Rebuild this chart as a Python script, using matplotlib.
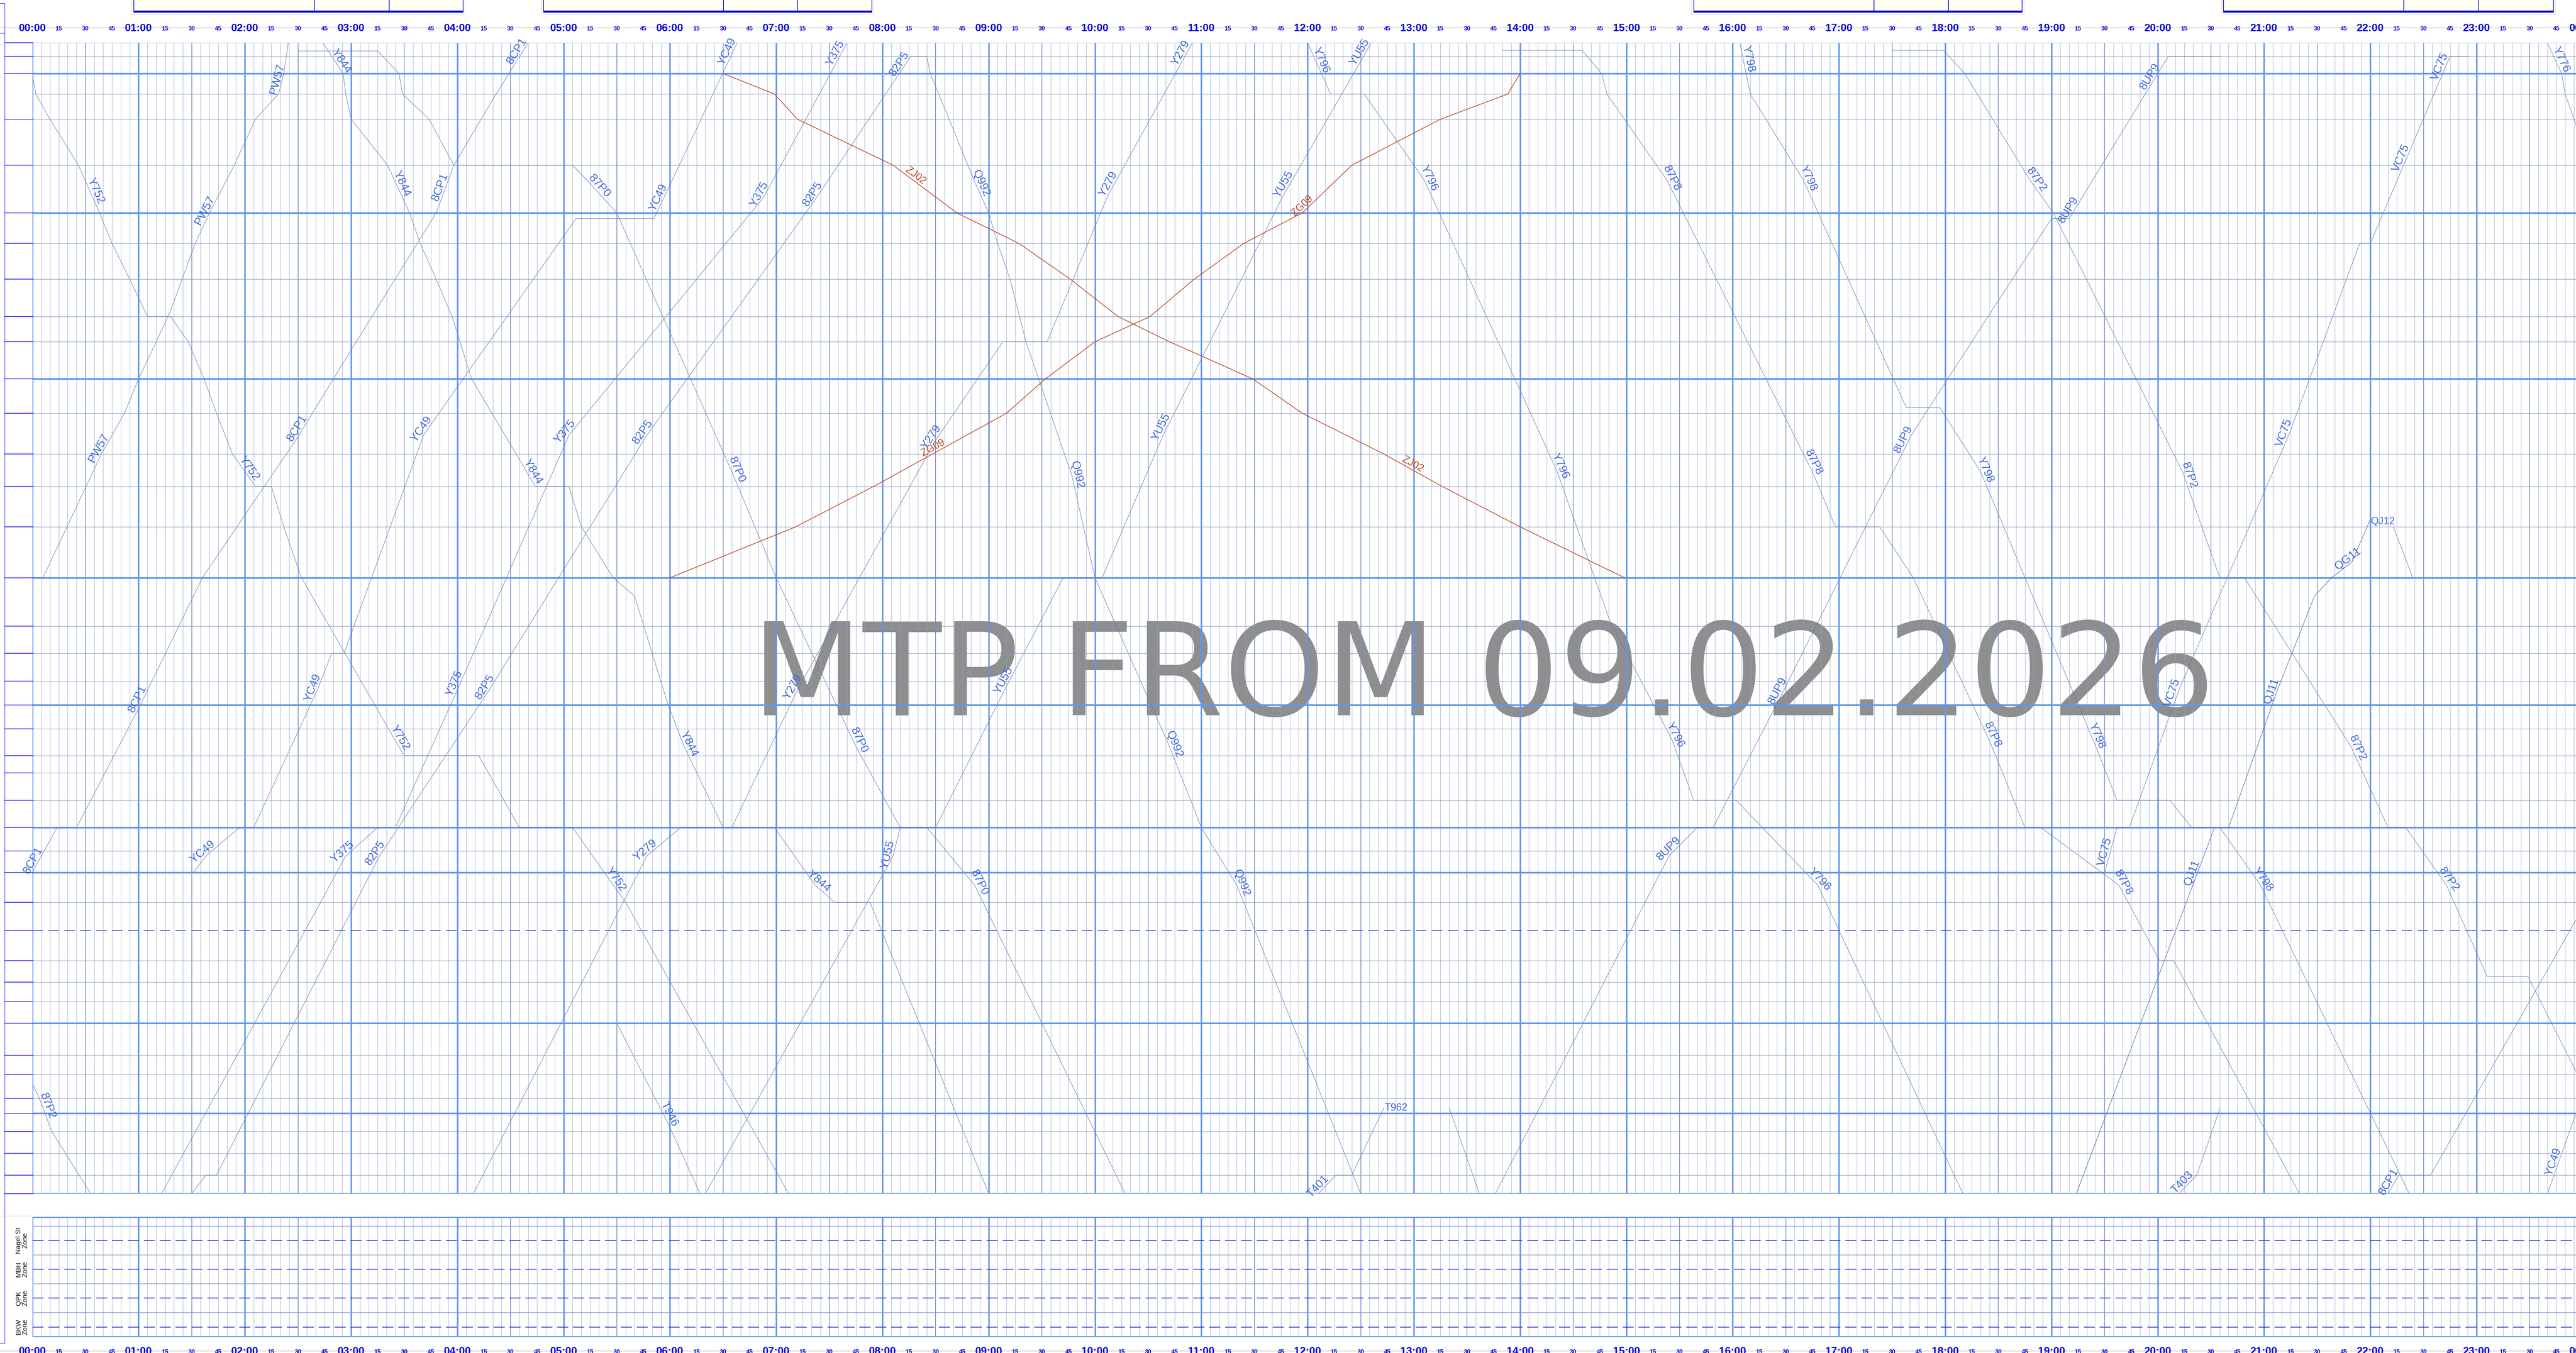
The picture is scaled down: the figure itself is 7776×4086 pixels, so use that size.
import numpy as np
import matplotlib
matplotlib.use("Agg")
import matplotlib.pyplot as plt
from matplotlib import transforms
from matplotlib.patches import Rectangle

FIG_W, FIG_H, DPI = 7776, 4086, 100

# ---------------- data ----------------
# station chainages (km), top to bottom of the diagram
STATION_KM = [0.00, 0.41, 0.93, 1.55, 2.31, 3.70, 5.14, 6.06, 7.14, 8.27, 9.03,
              10.15, 11.19, 12.42, 13.40, 14.62, 16.16, 17.62, 18.44, 19.28, 20.00,
              20.72, 21.53, 22.05, 22.88, 23.70, 24.41, 25.06, 25.96, 26.81, 27.72,
              28.37, 28.96, 29.61, 30.58, 31.16, 31.88, 32.33, 32.88, 33.54, 34.20, 34.76]
MAJOR_STATIONS = [2, 6, 11, 16, 20, 25, 27, 33, 37, 41]
DASHED_STATIONS = [29]
NO_TICK_STATIONS = [0, 3]
KM_END = 34.76

ZONE_NAMES = ["Nagel St\nZone", "MBH\nZone", "QPK\nZone", "BKW\nZone"]
WATERMARK = "MTP FROM 09.02.2026"

# train paths: (minutes after 00:00, chainage km)
PATH_PW57 = [(0, 16.16), (6, 16.16), (39, 12.42), (52, 11.19), (60, 10.15), (70, 9.03), (78, 8.10),
             (92, 6.06), (100, 5.14), (114, 3.70), (126, 2.31), (139, 1.55), (142, 0.93), (144.5, 0.0)]
PATH_87P0 = [(150, 0.25), (195, 0.25), (207, 0.93), (209, 1.55), (224, 2.31), (238, 3.70), (305, 3.70),
             (313, 4.14), (330, 5.14), (395, 12.96), (420, 16.16), (465, 21.25), (490, 23.70),
             (505, 23.70), (532, 25.44), (617, 34.76)]
PATH_Y752 = [(0, 0.93), (2, 1.55), (10, 2.31), (26, 3.70), (38, 5.14), (45, 6.06), (55, 7.14), (65, 8.27),
             (78, 8.27), (88, 9.03), (97, 10.15), (104, 11.19), (113, 12.42), (126, 13.40), (135, 13.40),
             (142, 14.62), (152, 16.16), (205, 21.08), (210, 21.53), (252, 21.53), (275, 23.70),
             (305, 23.70), (328, 25.44), (335, 25.96), (427, 34.76)]
PATH_Y844 = [(164, 0.0), (175.5, 0.93), (177, 1.55), (180, 2.31), (200.6, 3.70), (213, 5.14), (219, 6.06),
             (228, 7.14), (237, 8.27), (248, 10.15), (284, 13.40), (303, 13.40), (310, 14.62), (328, 16.16),
             (340, 16.71), (359, 20.0), (368, 21.25), (390, 23.70), (419, 23.70), (442, 25.44),
             (453, 25.96), (473, 25.96), (540, 34.76)]
PATH_8CP1 = [(0, 25.06), (14, 23.70), (25, 23.70), (61, 20.0), (96, 16.16), (150, 11.90), (170, 10.15),
             (228, 5.14), (238, 3.70), (260, 1.71), (280, 0.0)]
PATH_YC49 = [(91, 25.06), (98, 24.56), (117, 23.70), (125, 23.70), (161, 19.54), (169, 18.44), (176, 18.44),
             (221, 11.84), (307, 5.31), (351, 5.31), (398, 0.0)]
PATH_Y375 = [(73, 34.76), (177, 24.56), (195, 23.70), (205, 23.70), (240, 19.54), (303, 11.85),
             (413, 4.66), (460, 0.0)]
PATH_82P5 = [(90, 34.76), (98, 34.20), (104, 34.20), (196, 24.56), (258, 19.54), (347, 11.85),
             (443, 4.66), (496, 0.41)]
PATH_Q992 = [(496, 0.41), (505, 0.41), (507, 0.93), (532, 4.19), (540, 5.14), (545, 6.06), (552, 7.14),
             (561, 9.03), (587, 13.09), (600, 16.16), (642, 21.25), (660, 23.70), (680, 25.44), (750, 34.76)]
PATH_Y279 = [(249, 34.76), (347, 24.56), (366, 23.70), (395, 23.70), (432, 19.54), (510, 12.0),
             (548, 9.03), (573, 9.03), (607, 4.64), (655, 0.0)]
PATH_YU55 = [(380, 34.76), (486, 24.56), (490, 23.70), (510, 23.70), (549, 19.54), (582, 16.16),
             (604, 16.16), (638, 11.90), (706, 4.64), (756, 0.0)]
PATH_ZG09 = [(360, 16.16), (431, 14.62), (475, 13.40), (550, 11.19), (572, 10.15), (600, 9.03), (631, 8.27),
             (656, 7.14), (684, 6.06), (717, 5.14), (745, 3.70), (795, 2.31), (833, 1.55), (840, 0.93)]
PATH_ZJ02 = [(390, 0.93), (419, 1.55), (432, 2.31), (486, 3.70), (522, 5.14), (557, 6.06), (586, 7.14),
             (613, 8.27), (642, 9.03), (689, 10.15), (717, 11.19), (763, 12.42), (796, 13.40),
             (840, 14.62), (899, 16.16)]
PATH_Y796 = [(720, 0.0), (733, 1.55), (752, 1.55), (786, 4.16), (861, 12.96), (891, 17.51), (926, 21.08),
             (938, 22.88), (962, 22.88), (1008, 25.44), (1090, 34.76)]
PATH_87P8 = [(830, 0.23), (875, 0.23), (886, 0.93), (889, 1.55), (923, 4.16), (1005, 12.96), (1018, 14.62),
             (1043, 14.62), (1062, 16.16), (1105, 21.08), (1125, 23.70), (1134, 23.70), (1178, 25.44),
             (1201, 27.72), (1209, 27.72), (1280, 34.76)]
PATH_Y798 = [(964, 0.0), (970, 1.55), (1000, 4.16), (1058, 11.02), (1077, 11.02), (1100, 12.96),
             (1165, 21.25), (1177, 22.88), (1207, 22.88), (1219, 23.70), (1235, 23.70), (1258, 25.44),
             (1342, 34.76)]
PATH_87P2 = [(1050, 0.23), (1079, 0.23), (1091, 0.93), (1128, 4.16), (1141, 5.14), (1214, 12.96),
             (1235, 16.16), (1249, 16.16), (1309, 21.25), (1330, 23.70), (1340, 23.70), (1363, 25.44),
             (1386, 28.2), (1409, 28.2), (1445, 32.0)]
PATH_87P2_EARLY = [(0, 31.44), (4, 31.88), (11, 32.88), (33, 34.76)]
PATH_Y776 = [(1420, 0.0), (1428, 0.93), (1430, 1.55), (1445, 3.8)]
PATH_T401 = [(726, 34.76), (736, 34.20), (745, 34.20), (763, 32.17)]
PATH_T962 = [(800, 32.17), (817, 34.76)]
PATH_8UP9 = [(817, 34.76), (826, 34.76), (924, 24.56), (940, 23.70), (949, 23.70), (989, 19.54),
             (1061, 11.84), (1140, 5.31), (1150, 5.31), (1200, 0.93), (1206, 0.41), (1235, 0.41)]
PATH_VC75 = [(1151, 25.06), (1170, 25.06), (1177, 23.70), (1184, 23.70), (1212, 19.54), (1274, 11.84),
             (1314, 6.06), (1320, 6.06), (1365, 0.41), (1375, 0.41)]
PATH_QJ11 = [(1154, 34.76), (1226, 24.56), (1232, 23.70), (1240, 23.70), (1267.6, 19.54), (1288.5, 16.71),
             (1298, 16.16), (1309.5, 15.69), (1320, 14.4)]
PATH_QJ12 = [(1333, 14.62), (1344, 16.16)]
PATH_T403 = [(1212, 34.76), (1222, 34.20), (1235, 32.2)]
PATH_T946 = [(330, 29.61), (359, 32.64), (377, 34.76)]
PATH_YC49_LATE = [(1420, 34.76), (1445, 31.0)]
PATH_8CP1_LATE = [(1330, 34.76), (1336, 34.20), (1354, 34.20), (1436, 26.5), (1445, 25.7)]

# label times along each path (minutes)
LBL_PW57 = [40, 100, 141]
LBL_87P0 = [318, 395, 464, 532]
LBL_Y752 = [33, 120, 205, 327]
LBL_Y844 = [172, 206, 280, 368, 442]
LBL_8CP1 = [3, 62, 152, 233, 276]
LBL_YC49 = [98, 161, 222, 356, 395]
LBL_Y375 = [177, 241, 303, 413, 456]
LBL_82P5 = [196, 258, 347, 443, 492]
LBL_Q992 = [533, 587, 642, 680]
LBL_Y279 = [348, 432, 510, 610, 651]
LBL_YU55 = [486, 551, 640, 709, 752]
LBL_ZG09 = [510, 719]
LBL_ZJ02 = [497, 778]
LBL_Y796 = [725, 786, 860, 925, 1007]
LBL_87P8 = [923, 1003, 1104, 1178]
LBL_Y798 = [966, 1000, 1100, 1163, 1257]
LBL_87P2 = [1129, 1215, 1310, 1362]
LBL_87P2_EARLY = [6]
LBL_Y776 = [1425]
LBL_T401 = [728]
LBL_8UP9 = [926, 988, 1059, 1152, 1198]
LBL_VC75 = [1173, 1211, 1274, 1340, 1362]
LBL_QJ11 = [1222, 1267]
LBL_QG11 = [1309]
LBL_T403 = [1216]
LBL_T946 = [357]
LBL_YC49_LATE = [1426]
LBL_8CP1_LATE = [1333]
FLAT_LABELS = [("QJ12", 1327, 14.46), ("T962", 770, 32.17)]

BLUE_TRAIN = "#6676AC"
ORANGE_TRAIN = "#B8461C"

TRAINS = [
    ("PW57", PATH_PW57, LBL_PW57, BLUE_TRAIN), ("87P0", PATH_87P0, LBL_87P0, BLUE_TRAIN),
    ("Y752", PATH_Y752, LBL_Y752, BLUE_TRAIN), ("Y844", PATH_Y844, LBL_Y844, BLUE_TRAIN),
    ("8CP1", PATH_8CP1, LBL_8CP1, BLUE_TRAIN), ("YC49", PATH_YC49, LBL_YC49, BLUE_TRAIN),
    ("Y375", PATH_Y375, LBL_Y375, BLUE_TRAIN), ("82P5", PATH_82P5, LBL_82P5, BLUE_TRAIN),
    ("Q992", PATH_Q992, LBL_Q992, BLUE_TRAIN), ("Y279", PATH_Y279, LBL_Y279, BLUE_TRAIN),
    ("YU55", PATH_YU55, LBL_YU55, BLUE_TRAIN), ("ZG09", PATH_ZG09, LBL_ZG09, ORANGE_TRAIN),
    ("ZJ02", PATH_ZJ02, LBL_ZJ02, ORANGE_TRAIN), ("Y796", PATH_Y796, LBL_Y796, BLUE_TRAIN),
    ("87P8", PATH_87P8, LBL_87P8, BLUE_TRAIN), ("Y798", PATH_Y798, LBL_Y798, BLUE_TRAIN),
    ("87P2", PATH_87P2, LBL_87P2, BLUE_TRAIN), ("87P2", PATH_87P2_EARLY, LBL_87P2_EARLY, BLUE_TRAIN),
    ("Y776", PATH_Y776, LBL_Y776, BLUE_TRAIN), ("T401", PATH_T401, LBL_T401, BLUE_TRAIN),
    ("T962", PATH_T962, [], BLUE_TRAIN), ("8UP9", PATH_8UP9, LBL_8UP9, BLUE_TRAIN),
    ("VC75", PATH_VC75, LBL_VC75, BLUE_TRAIN), ("QJ11", PATH_QJ11, LBL_QJ11, BLUE_TRAIN),
    ("QG11", PATH_QJ11, LBL_QG11, BLUE_TRAIN), ("QJ12", PATH_QJ12, [], BLUE_TRAIN),
    ("T403", PATH_T403, LBL_T403, BLUE_TRAIN), ("T946", PATH_T946, LBL_T946, BLUE_TRAIN),
    ("YC49", PATH_YC49_LATE, LBL_YC49_LATE, BLUE_TRAIN), ("8CP1", PATH_8CP1_LATE, LBL_8CP1_LATE, BLUE_TRAIN),
]

# ---------------- layout (figure pixels) ----------------
X0_PX, HOUR_PX = 97.5, 320.8
MAIN_TOP, MAIN_BOT = 129, 3605
SUB_TOP, SUB_BOT = 3675, 4038
LABEL_ROW_TOP, LABEL_ROW_BOT = 86, 4082
HEADER_BOXES = [(404, 1398, [949, 1175]), (1641, 2632, [2184, 2408]),
                (5113, 6104, [5657, 5882]), (6712, 7708, [7256, 7481])]

PX = 72.0 / DPI  # points per pixel


def px_rect(x0, x1, ytop, ybot):
    return [x0 / FIG_W, 1 - ybot / FIG_H, (x1 - x0) / FIG_W, (ybot - ytop) / FIG_H]


fig = plt.figure(figsize=(FIG_W / DPI, FIG_H / DPI), dpi=DPI)
fig.patch.set_facecolor("white")

bg = fig.add_axes([0, 0, 1, 1], zorder=0)
bg.set_xlim(0, FIG_W); bg.set_ylim(FIG_H, 0); bg.axis("off")

x_right = X0_PX + 24 * HOUR_PX
ax = fig.add_axes(px_rect(X0_PX, x_right, MAIN_TOP, MAIN_BOT), zorder=1)
ax.set_facecolor("none"); ax.set_xlim(0, 1440); ax.set_ylim(KM_END, 0); ax.axis("off")

bx = fig.add_axes(px_rect(X0_PX, x_right, SUB_TOP, SUB_BOT), zorder=1)
bx.set_facecolor("none"); bx.set_xlim(0, 1440); bx.set_ylim(4.17, 0); bx.axis("off")

deco = fig.add_axes([0, 0, 1, 1], zorder=3)
deco.set_facecolor("none"); deco.set_xlim(0, FIG_W); deco.set_ylim(FIG_H, 0); deco.axis("off")

# watermark (under the grid)
bg.text(4478, 2052, WATERMARK, fontsize=280, family="DejaVu Sans", color="#8E8E8E",
        ha="center", va="center", zorder=0)


def time_grid(a, y0, y1):
    mins = np.arange(0, 1441, 5)
    thin = [m for m in mins if m % 30 != 0]
    half = [m for m in mins if m % 30 == 0 and m % 60 != 0]
    hours = [m for m in mins if m % 60 == 0]
    a.vlines(thin, y0, y1, color="#8E9DC8", lw=1.0 * PX, zorder=1)
    a.vlines(half, y0, y1, color="#7C91C8", lw=2.2 * PX, zorder=1)
    a.vlines(hours, y0, y1, color="#6495ED", lw=4.5 * PX, zorder=2)


time_grid(ax, 0, KM_END)
time_grid(bx, 0, 4.17)

# station lines
for i, km in enumerate(STATION_KM):
    if i == 0:
        ax.hlines(km, 0, 1440, color="#A5B8EC", lw=2.0 * PX, zorder=2)
    elif i in MAJOR_STATIONS:
        ax.hlines(km, 0, 1440, color="#6495ED", lw=5.0 * PX, zorder=3)
    elif i in DASHED_STATIONS:
        ax.hlines(km, 0, 1440, color="#2E2ED8", lw=2.0 * PX, zorder=3, linestyles=(0, (16, 8)))
    else:
        ax.hlines(km, 0, 1440, color="#8090BE", lw=1.3 * PX, zorder=2)

# lower panel rows
for r in range(4):
    bx.hlines(0.32 + r, 0, 1440, color="#8090BE", lw=1.6 * PX, zorder=2)
    bx.hlines(0.82 + r, 0, 1440, color="#2424E0", lw=2.4 * PX, zorder=3, linestyles=(0, (14, 6)))
bx.hlines([0, 4.17], 0, 1440, color="#6495ED", lw=6 * PX, zorder=3)

# trains
for name, path, lbls, col in TRAINS:
    t = np.array([p[0] for p in path], float)
    k = np.array([p[1] for p in path], float)
    is_orange = col == ORANGE_TRAIN
    ax.plot(t, k, color=col, lw=(2.0 if is_orange else 1.3) * PX, zorder=5, clip_on=True)
    for lt in lbls:
        y = np.interp(lt, t, k)
        i = int(np.searchsorted(t, lt, side="right") - 1)
        i = min(max(i, 0), len(t) - 2)
        p0 = ax.transData.transform((t[i], k[i]))
        p1 = ax.transData.transform((t[i + 1], k[i + 1]))
        ang = np.degrees(np.arctan2(p1[1] - p0[1], p1[0] - p0[0]))
        if ang > 90:
            ang -= 180
        if ang < -90:
            ang += 180
        ax.text(lt, y, name, rotation=ang, rotation_mode="anchor", ha="center", va="bottom",
                fontsize=22 if is_orange else 25, family="Liberation Sans",
                color=col if is_orange else "#3F68D8", zorder=6, clip_on=False)

for name, lt, km in FLAT_LABELS:
    ax.text(lt, km, name, ha="center", va="center", fontsize=22, family="Liberation Sans",
            color="#3F68D8", zorder=6)

# zone names in lower panel
tz = transforms.blended_transform_factory(deco.transData, bx.transData)
for r, zn in enumerate(ZONE_NAMES):
    deco.text(66, 0.82 + r, zn, transform=tz, rotation=90, ha="center", va="center",
              multialignment="center", fontsize=15, family="Liberation Sans", color="#111111",
              linespacing=1.05)

# time labels (top and bottom)
tt = transforms.blended_transform_factory(ax.transData, deco.transData)
for yrow in (LABEL_ROW_TOP, LABEL_ROW_BOT):
    deco.plot([0, FIG_W], [yrow - 2, yrow - 2], color="#BDBDBD", lw=1.6 * PX, zorder=1)
    for h in range(25):
        deco.text(h * 60, yrow, "%02d:00" % (h % 24), transform=tt, ha="center", va="center",
                  fontsize=23, fontweight="bold", family="Liberation Sans", color="#0000DD", zorder=4)
        if h < 24:
            for q in (15, 30, 45):
                deco.text(h * 60 + q, yrow + 1, str(q), transform=tt, ha="center", va="center",
                          fontsize=13, fontweight="bold", family="Liberation Sans", color="#0000DD",
                          zorder=4)

# left margin: vertical rule and station ticks
deco.plot([13.5, 13.5], [100, 4057], color="#1A1AFF", lw=1.4 * PX)
deco.plot([0, 13.5, 13.5, 0], [10, 10, 100, 100], color="#1A1AFF", lw=1.4 * PX)
deco.plot([0, 13.5], [4057, 4057], color="#1A1AFF", lw=1.4 * PX)
deco.plot([0, 97], [3672, 3672], color="#DDDDDD", lw=1.4 * PX)
ts = transforms.blended_transform_factory(deco.transData, ax.transData)
for i, km in enumerate(STATION_KM):
    if i in NO_TICK_STATIONS:
        continue
    deco.plot([13.5, 100], [km, km], transform=ts, color="#0000EE", lw=1.8 * PX, zorder=4)
deco.plot([13.5, 100], [0, 0], transform=ts, color="#0000EE", lw=1.8 * PX, zorder=4)

# header boxes along the top edge
for x0, x1, divs in HEADER_BOXES:
    deco.add_patch(Rectangle((x0 - 6, -10), x1 - x0 + 12, 54, facecolor="none",
                             edgecolor="#DADADA", lw=1.5 * PX))
    deco.add_patch(Rectangle((x0, -10), x1 - x0, 47, facecolor="#FFFFF4",
                             edgecolor="#1414D0", lw=2 * PX))
    deco.plot([x0, x1], [35, 35], color="#0000B4", lw=6 * PX, solid_capstyle="butt")
    for d in divs:
        deco.plot([d, d], [-10, 35], color="#0000C8", lw=2 * PX)

fig.savefig("out.png", dpi=DPI)
